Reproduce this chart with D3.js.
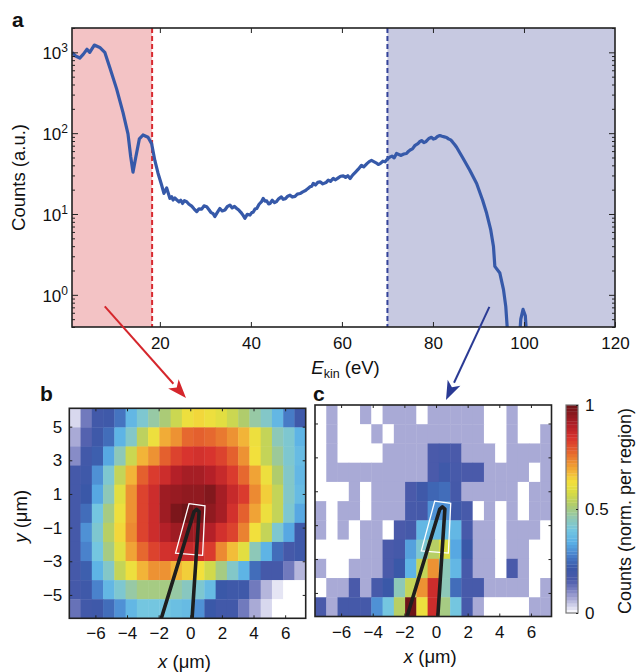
<!DOCTYPE html>
<html><head><meta charset="utf-8">
<script src="https://cdn.jsdelivr.net/npm/d3@7"></script>
<style>
body{margin:0;background:#fff}
text{font-family:"Liberation Sans",Arial,Helvetica,sans-serif;fill:#111}
</style>
</head><body>
<svg id="fig" width="636" height="672"></svg>
<script>
// ---------- DATA ----------
// Panel a: electron spectrum (E_kin in eV, counts a.u.)
const energy = [0.7,1.5,2.4,3.2,4.0,4.6,5.6,6.8,7.9,9.0,10.5,11.9,13.0,13.6,14.1,14.7,15.5,16.3,17.4,18.2,18.9,19.6,
 20.4,20.9,21.5,22.2,22.6,22.9,23.3,23.7,24.2,24.6,25.0,25.4,25.9,26.4,27.0,27.5,28.1,28.6,29.2,29.7,30.3,30.8,31.2,31.7,32.1,32.6,33.2,33.7,34.3,34.8,35.4,35.9,36.4,36.9,37.4,37.8,38.3,38.7,39.2,39.8,40.2,40.5,40.9,41.3,41.8,42.3,42.7,43.1,43.5,43.9,44.2,44.7,45.2,45.6,46.1,46.7,47.1,47.6,48.1,48.6,49.1,49.7,50.2,50.8,51.4,52.0,52.5,53.0,53.4,53.7,54.2,54.7,55.2,55.8,56.5,57.0,57.5,58.1,58.6,59.2,59.7,60.3,60.8,61.3,61.8,62.4,63.0,63.6,64.3,64.8,65.5,66.0,66.5,67.0,67.5,68.0,68.4,69.0,69.5,70.0,70.5,71.0,71.5,72.0,72.5,73.0,73.6,74.2,74.6,75.0,75.5,76.0,76.7,77.1,77.5,78.0,78.5,79.1,79.7,80.1,80.5,81.0,81.5,82.0,82.5,83.0,83.4,83.9,84.3,84.8,85.2,86.7,88.1,89.6,90.9,91.8,92.7,93.3,93.6,94.7,95.5,96.0,96.3,96.6];
const counts = [1000,900,850,950,1090,1000,1230,1150,1000,650,353,181,98,51,33,50,85,95,89,74,46,32,
 22.7,18,21,15.6,16.4,14.9,15.8,15,14.1,14.8,13.5,14.6,14.2,13.2,12.5,11.6,10.7,11.6,11.5,12.6,12.3,11.3,10.5,10.1,9.3,10.4,11.7,10.9,11.2,12.3,12.9,11.9,12.4,11.7,11.1,10.5,9.6,8.85,9.9,9.7,10.4,10.5,11.5,11.7,13.2,14.1,15.6,14.4,14.5,13.3,13.5,14.8,13.8,14.2,15.4,16.3,15.2,15.5,16.6,17.1,16.2,16.5,17.6,17.9,18.8,19.5,20.6,21.7,22.1,23.9,22.8,24.6,25,23.6,24.5,26.2,25.4,27.5,26.5,28,29.3,29.6,28.4,29.8,27.5,30.5,33,35.8,40,38.2,42,44.5,46,44.5,43,41,42,45,44.2,48,50.5,52,49.5,56,54.5,53,55.2,56,59.5,62,64,70,74,78.5,81,76.5,79,86,89,84.5,86,91,93.6,91.5,90,88.5,85,82.5,78,72,67,48,34.8,23.9,14.9,10.2,6.35,3.96,2.25,1.86,1.16,0.72,0.41,0.2];
const energy2 = [98.8,99.3,99.8,100.3,100.8];
const counts2 = [0.2,0.5,0.66,0.55,0.2];
const xTicksA = [20,40,60,80,100,120];
const yTicksA = [1,10,100,1000];
const redCut = 18.3, blueCut = 70;

// Panels b, c: 11 rows (top to bottom) x 21 columns, normalized counts
const mapB = [
 [0.03,0.12,0.19,0.2,0.26,0.36,0.42,0.47,0.51,0.56,0.62,0.64,0.62,0.6,0.56,0.52,0.47,0.43,0.36,0.27,0.2],
 [0.07,0.15,0.2,0.25,0.35,0.43,0.54,0.62,0.69,0.72,0.77,0.78,0.77,0.75,0.72,0.68,0.62,0.55,0.45,0.42,0.35],
 [0.1,0.19,0.23,0.33,0.45,0.56,0.68,0.72,0.78,0.82,0.84,0.85,0.84,0.82,0.78,0.72,0.63,0.55,0.48,0.42,0.37],
 [0.18,0.2,0.3,0.42,0.55,0.68,0.78,0.83,0.86,0.9,0.92,0.92,0.9,0.87,0.83,0.77,0.7,0.62,0.52,0.43,0.36],
 [0.18,0.22,0.33,0.45,0.6,0.72,0.82,0.86,0.93,0.94,0.95,0.95,0.97,0.92,0.87,0.83,0.73,0.65,0.55,0.43,0.37],
 [0.18,0.25,0.4,0.5,0.62,0.72,0.82,0.86,0.93,0.98,1.0,0.98,0.95,0.92,0.85,0.78,0.7,0.62,0.55,0.42,0.33],
 [0.18,0.3,0.42,0.53,0.64,0.73,0.82,0.86,0.9,0.93,0.94,0.93,0.9,0.85,0.82,0.74,0.63,0.55,0.42,0.33,0.2],
 [0.18,0.28,0.4,0.5,0.6,0.7,0.77,0.82,0.85,0.86,0.87,0.86,0.83,0.73,0.67,0.6,0.45,0.35,0.25,0.18,0.2],
 [0.18,0.23,0.35,0.43,0.55,0.62,0.68,0.72,0.72,0.68,0.65,0.63,0.57,0.5,0.43,0.35,0.25,0.18,0.18,0.12,0.06],
 [0.18,0.2,0.28,0.36,0.42,0.47,0.5,0.5,0.5,0.47,0.44,0.42,0.37,0.22,0.2,0.2,0.12,0.06,0.02,0,0],
 [0.13,0.19,0.2,0.25,0.3,0.36,0.4,0.4,0.4,0.38,0.37,0.3,0.22,0.19,0.19,0.12,0.07,0.03,0,0,0]
];
const mapC = [
 [0,0.07,0,0,0.07,0,0.07,0.07,0.07,0,0.07,0.07,0.07,0.07,0.07,0,0,0.07,0,0,0],
 [0,0.07,0,0,0,0.07,0,0.07,0.07,0.07,0.07,0.07,0.07,0.07,0.07,0,0,0.07,0,0,0.07],
 [0,0.07,0,0,0,0,0.07,0.07,0.07,0.07,0.16,0.17,0.16,0.07,0.07,0.07,0,0.07,0.07,0.07,0.07],
 [0,0.07,0.07,0.07,0.07,0.07,0.07,0.07,0.07,0.07,0.16,0.2,0.17,0.16,0.16,0.07,0.07,0.07,0.07,0,0.07],
 [0,0,0,0.07,0,0.07,0.07,0.07,0.16,0.2,0.24,0.25,0.18,0.07,0.07,0.07,0.07,0.07,0,0.07,0.07],
 [0.07,0,0.07,0.07,0,0.07,0.07,0.07,0.17,0.18,0.3,0.3,0.2,0.17,0,0.07,0,0.07,0,0.07,0.07],
 [0.07,0,0.07,0,0.07,0.07,0,0.16,0.18,0.36,0.37,0.37,0.36,0.17,0.07,0.07,0,0.07,0.07,0.07,0],
 [0,0,0,0,0.07,0.07,0.16,0.18,0.32,0.42,0.53,0.58,0.33,0.22,0.07,0.07,0,0.07,0.07,0,0],
 [0.07,0,0,0.07,0.07,0.07,0.16,0.22,0.35,0.55,0.72,0.45,0.36,0.17,0.07,0.07,0,0.16,0.07,0,0],
 [0,0.07,0.07,0.16,0.07,0.17,0.22,0.45,0.55,0.72,0.86,0.45,0.25,0.17,0.17,0.07,0.07,0.07,0.07,0,0.07],
 [0.16,0.07,0.18,0.18,0.18,0.3,0.4,0.53,1.0,0.62,0.86,0.5,0.4,0.17,0.07,0,0,0,0,0.07,0.07]
];
const xTicksMap = [-6,-4,-2,0,2,4,6];
const yTicksMap = [5,3,1,-1,-3,-5];
const cbTicks = [0,0.5,1];
// colour map (value stops -> colours)
const cmapStops = [0,0.03,0.07,0.11,0.16,0.22,0.28,0.34,0.4,0.46,0.52,0.58,0.63,0.68,0.73,0.78,0.84,0.9,0.95,1];
const cmapColors = ["#ffffff","#d8d8ee","#a9aad6","#7b82c2","#4a5aaa","#3a58a8","#4a82cc","#5ab0e6","#74c6e0","#92c8b0","#b0cc6c","#d8dc44","#f2e03c","#f2b438","#ec8a32","#e4602e","#d8342e","#b42028","#901a20","#6e1418"];
// tip outline and analysis region (in µm)
const tipX = [-1.9,0.24,0.4,0.56,0.1];
const tipY = [-6.6,-0.05,0.08,-0.05,-6.6];
const boxX = [-0.08,0.93,0.78,-0.93];
const boxY = [0.42,0.29,-2.65,-2.52];

// ---------- DRAW ----------
const svg = d3.select("#fig");
const TICKF = 17, LABF = 18.5;
const minus = d => d < 0 ? "\u2212" + (-d) : String(d);

// Panel a
const A = {l:72, r:615, t:28, b:327};
const xA = d3.scaleLinear().domain([0.7,120]).range([A.l,A.r]);
const yA = d3.scaleLog().domain([0.4,2000]).range([A.b,A.t]);
const gA = svg.append("g");
gA.append("clipPath").attr("id","clipA").append("rect")
  .attr("x",A.l).attr("y",A.t).attr("width",A.r-A.l).attr("height",A.b-A.t);
gA.append("rect").attr("x",xA(0.7)).attr("y",A.t).attr("width",xA(redCut)-xA(0.7)).attr("height",A.b-A.t).attr("fill","#f3c3c5");
gA.append("rect").attr("x",xA(blueCut)).attr("y",A.t).attr("width",xA(120)-xA(blueCut)).attr("height",A.b-A.t).attr("fill","#c7c9e1");
gA.append("line").attr("x1",xA(redCut)).attr("x2",xA(redCut)).attr("y1",A.t).attr("y2",A.b)
  .attr("stroke","#d82a30").attr("stroke-width",2).attr("stroke-dasharray","5,3");
gA.append("line").attr("x1",xA(blueCut)).attr("x2",xA(blueCut)).attr("y1",A.t).attr("y2",A.b)
  .attr("stroke","#34449a").attr("stroke-width",2).attr("stroke-dasharray","5,3");
const lineA = d3.line().x(d=>xA(d[0])).y(d=>yA(d[1]));
[[energy,counts],[energy2,counts2]].forEach(([e,c])=>{
  gA.append("path").attr("clip-path","url(#clipA)")
    .attr("d", lineA(e.map((v,i)=>[v,c[i]])))
    .attr("fill","none").attr("stroke","#3659a9").attr("stroke-width",3.2).attr("stroke-linejoin","round");
});
// axes
function styleAxis(g){ g.select(".domain").remove(); g.selectAll(".tick line").attr("stroke","#222").attr("stroke-width",1);
  g.selectAll("text").attr("font-size",TICKF).attr("fill","#111").attr("font-family",'"Liberation Sans",Arial,sans-serif'); }
gA.append("g").attr("transform",`translate(0,${A.b})`)
  .call(d3.axisBottom(xA).tickValues(xTicksA).tickSize(-5).tickPadding(10)).call(styleAxis);
gA.append("g").attr("transform",`translate(0,${A.t})`)
  .call(d3.axisTop(xA).tickValues(xTicksA.slice(0,-1)).tickSize(-5).tickFormat("")).call(styleAxis);
const minorA = [];
[0.1,1,10,100,1000].forEach(dec=>{ for(let k=2;k<=9;k++){ const v=dec*k; if(v>=0.4 && v<=2000) minorA.push(v);} });
[["L",A.l],["R",A.r]].forEach(([s,xp])=>{
  const maj = (s==="L"? d3.axisLeft(yA).tickSize(-6) : d3.axisRight(yA).tickSize(-6)).tickValues(yTicksA).tickFormat("");
  const mn = (s==="L"? d3.axisLeft(yA).tickSize(-3) : d3.axisRight(yA).tickSize(-3)).tickValues(minorA).tickFormat("");
  gA.append("g").attr("transform",`translate(${xp},0)`).call(maj).call(styleAxis);
  gA.append("g").attr("transform",`translate(${xp},0)`).call(mn).call(styleAxis);
});
// y tick labels with superscripts
yTicksA.forEach(v=>{
  const t = gA.append("text").attr("x",A.l-4).attr("y",yA(v)+7).attr("text-anchor","end").attr("font-size",TICKF);
  t.append("tspan").text("10");
  t.append("tspan").attr("font-size",12).attr("dy",-7).text(String(Math.round(Math.log10(v))));
});
gA.append("rect").attr("x",A.l).attr("y",A.t).attr("width",A.r-A.l).attr("height",A.b-A.t)
  .attr("fill","none").attr("stroke","#222").attr("stroke-width",1.6);
// labels
const xl = gA.append("text").attr("x",(A.l+A.r)/2+2).attr("y",374).attr("text-anchor","middle").attr("font-size",LABF);
xl.append("tspan").attr("font-style","italic").text("E");
xl.append("tspan").attr("font-size",12.5).attr("dy",4).text("kin");
xl.append("tspan").attr("dy",-4).text(" (eV)");
gA.append("text").attr("transform",`translate(25,${(A.t+A.b)/2}) rotate(-90)`).attr("text-anchor","middle").attr("font-size",LABF).text("Counts (a.u.)");

// colour scale
const cmap = d3.scaleLinear().domain(cmapStops).range(cmapColors).interpolate(d3.interpolateRgb).clamp(true);

// heatmap panels
function heat(P, data, id, showY){
  const g = svg.append("g");
  const xs = d3.scaleLinear().domain([-7.65,7.3]).range([P.l,P.r]);
  const ys = d3.scaleLinear().domain([-6.39,6.09]).range([P.b,P.t]);
  const cols = d3.scaleBand().domain(d3.range(data[0].length)).range([P.l,P.r]);
  const rows = d3.scaleBand().domain(d3.range(data.length)).range([P.t,P.b]);
  g.append("clipPath").attr("id",id).append("rect").attr("x",P.l).attr("y",P.t).attr("width",P.r-P.l).attr("height",P.b-P.t);
  data.forEach((row,j)=>row.forEach((v,i)=>{
    g.append("rect").attr("x",cols(i)).attr("y",rows(j)).attr("width",cols.bandwidth()+0.4).attr("height",rows.bandwidth()+0.4)
      .attr("fill",cmap(v)).attr("clip-path",`url(#${id})`);
  }));
  g.append("path").attr("d", d3.line()(boxX.map((x,i)=>[xs(x),ys(boxY[i])])) + "Z")
    .attr("fill","none").attr("stroke","#fff").attr("stroke-width",1.3);
  g.append("path").attr("clip-path",`url(#${id})`).attr("d", d3.line()(tipX.map((x,i)=>[xs(x),ys(tipY[i])])))
    .attr("fill","none").attr("stroke","#1e1e1e").attr("stroke-width",3.6).attr("stroke-linejoin","round").attr("stroke-linecap","round");
  g.append("g").attr("transform",`translate(0,${P.b})`).call(d3.axisBottom(xs).tickValues(xTicksMap).tickSize(-3).tickPadding(9).tickFormat(minus)).call(styleAxis);
  g.append("g").attr("transform",`translate(0,${P.t})`).call(d3.axisTop(xs).tickValues(xTicksMap).tickSize(-3).tickFormat("")).call(styleAxis);
  g.append("g").attr("transform",`translate(${P.l},0)`).call(d3.axisLeft(ys).tickValues(yTicksMap).tickSize(-3).tickPadding(7).tickFormat(showY?minus:"")).call(styleAxis);
  g.append("g").attr("transform",`translate(${P.r},0)`).call(d3.axisRight(ys).tickValues(yTicksMap).tickSize(-3).tickFormat("")).call(styleAxis);
  g.append("rect").attr("x",P.l).attr("y",P.t).attr("width",P.r-P.l).attr("height",P.b-P.t)
    .attr("fill","none").attr("stroke","#222").attr("stroke-width",1.6);
  const lab = g.append("text").attr("x",(P.l+P.r)/2-3).attr("y",P.lab).attr("text-anchor","middle").attr("font-size",LABF);
  lab.append("tspan").attr("font-style","italic").text("x");
  lab.append("tspan").text(" (\u03BCm)");
  if(showY){
    const yl = g.append("text").attr("transform",`translate(27,${(P.t+P.b)/2+3}) rotate(-90)`).attr("text-anchor","middle").attr("font-size",LABF);
    yl.append("tspan").attr("font-style","italic").text("y");
    yl.append("tspan").text(" (\u03BCm)");
  }
}
heat({l:69.3,r:305.7,t:408.3,b:618.3,lab:668}, mapB, "clipB", true);
heat({l:315,r:551.5,t:405,b:616.5,lab:663}, mapC, "clipC", false);

// colour bar
const CB = {l:566, r:578, t:405, b:613};
const cbY = d3.scaleLinear().domain([0,1]).range([CB.b,CB.t]);
const nSteps = 64;
d3.range(nSteps).forEach(k=>{
  const v0 = k/nSteps, v1=(k+1)/nSteps;
  svg.append("rect").attr("x",CB.l).attr("y",cbY(v1)).attr("width",CB.r-CB.l).attr("height",cbY(v0)-cbY(v1)+0.3)
    .attr("fill",cmap((v0+v1)/2));
});
svg.append("rect").attr("x",CB.l).attr("y",CB.t).attr("width",CB.r-CB.l).attr("height",CB.b-CB.t)
  .attr("fill","none").attr("stroke","#777").attr("stroke-width",1.2);
const cbAx = svg.append("g").attr("transform",`translate(${CB.r},0)`)
  .call(d3.axisRight(cbY).tickValues(cbTicks).tickSize(2).tickPadding(5).tickFormat(d=>String(d))).call(styleAxis);
cbAx.selectAll(".tick line").attr("x2",-2);
svg.append("text").attr("transform",`translate(631,${(CB.t+CB.b)/2+2}) rotate(-90)`).attr("text-anchor","middle")
  .attr("font-size",18).text("Counts (norm. per region)");

// arrows (annotation)
function arrow(x1,y1,x2,y2,col){
  const ang = Math.atan2(y2-y1,x2-x1), L=19, W=7;
  const bx = x2 - L*Math.cos(ang), by = y2 - L*Math.sin(ang);
  svg.append("line").attr("x1",x1).attr("y1",y1).attr("x2",bx).attr("y2",by).attr("stroke",col).attr("stroke-width",2);
  const p = [[x2,y2],[bx+W*Math.sin(ang),by-W*Math.cos(ang)],[bx+5*Math.cos(ang),by+5*Math.sin(ang)],[bx-W*Math.sin(ang),by+W*Math.cos(ang)]];
  svg.append("path").attr("d",d3.line()(p)+"Z").attr("fill",col);
}
arrow(xA(7.9), yA(0.72), 186, 398, "#d5262c");
arrow(xA(92.4), yA(0.71), 446, 400, "#2a3a94");

// panel letters
[["a",12,27],["b",40,401],["c",313,401]].forEach(([t,x,y])=>{
  svg.append("text").attr("x",x).attr("y",y).attr("font-size",21).attr("font-weight","bold").text(t);
});
</script>
</body></html>
